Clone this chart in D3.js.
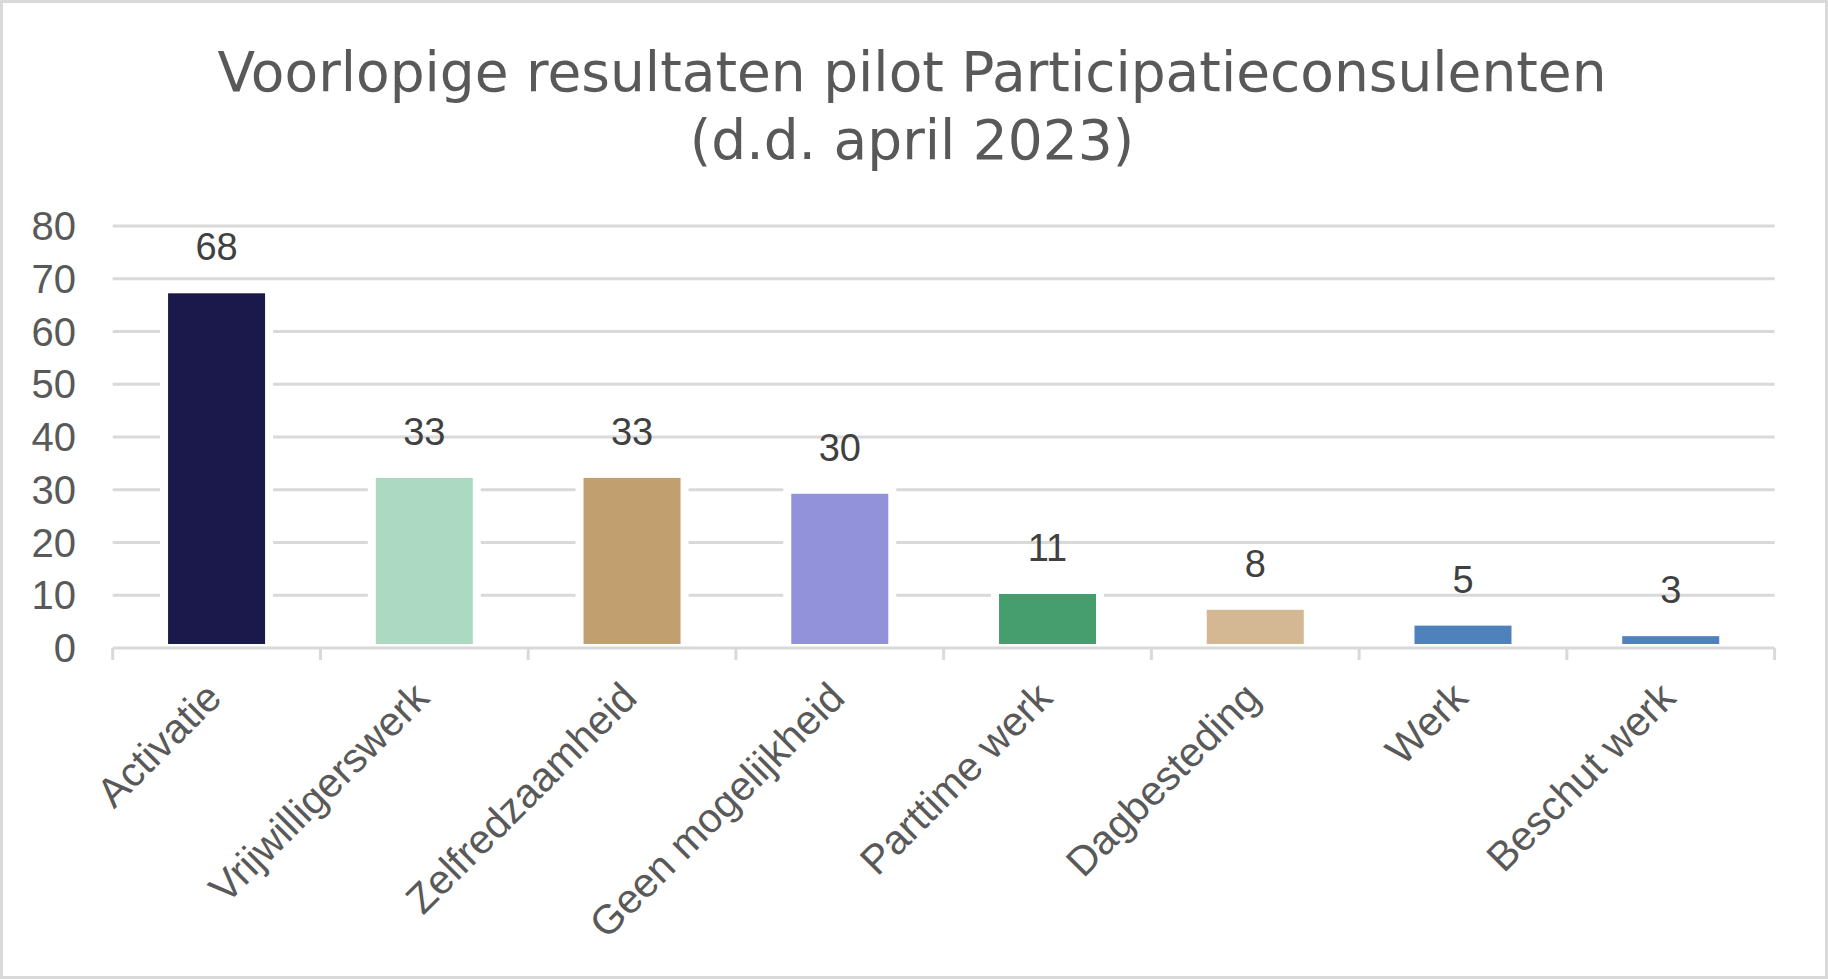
<!DOCTYPE html>
<html>
<head>
<meta charset="utf-8">
<script src="https://cdn.jsdelivr.net/npm/d3@7"></script>
<style>
  body { margin: 0; background: #fff; }
  text { font-family: Arial, "Liberation Sans", sans-serif; }
</style>
</head>
<body>
<div class="canvas"></div>
<script>
// chart data
var categories = ['Activatie', 'Vrijwilligerswerk', 'Zelfredzaamheid', 'Geen mogelijkheid',
                  'Parttime werk', 'Dagbesteding', 'Werk', 'Beschut werk']
var values = [68, 33, 33, 30, 11, 8, 5, 3]
var colors = ['#1b194c', '#acd9c1', '#c29f6f', '#9192da', '#469e6e', '#d4b894', '#4f81bd', '#4f81bd']
var yTicks = [0, 10, 20, 30, 40, 50, 60, 70, 80]
var titleLines = ['Voorlopige resultaten pilot Participatieconsulenten', '(d.d. april 2023)']

var W = 1828, H = 979
var svg = d3.select(".canvas").append("svg").attr("width", W).attr("height", H)

// outer border
svg.append('rect')
    .attr('x', 1.5).attr('y', 1.5)
    .attr('width', W - 3).attr('height', H - 3)
    .attr('fill', 'white')
    .attr('stroke', '#d9d9d9')
    .attr('stroke-width', 3)

// title
svg.selectAll('.title')
    .data(titleLines)
    .enter().append('text')
    .attr('class', 'title')
    .attr('x', 912)
    .attr('y', (d, i) => 91 + i * 68)
    .attr('text-anchor', 'middle')
    .attr('font-size', 55)
    .style('font-family', '"DejaVu Sans", Verdana, sans-serif')
    .attr('fill', '#595959')
    .text(d => d)

var plot = {left: 112.7, right: 1774.6, top: 226, bottom: 648}

var x = d3.scaleBand().domain(categories).range([plot.left, plot.right]).paddingInner(0.533).paddingOuter(0.2665)
var y = d3.scaleLinear().domain([0, 80]).range([plot.bottom, plot.top])

// gridlines
svg.selectAll('.grid')
    .data(yTicks.filter(d => d > 0))
    .enter().append('line')
    .attr('x1', plot.left).attr('x2', plot.right)
    .attr('y1', d => y(d)).attr('y2', d => y(d))
    .attr('stroke', '#d9d9d9')
    .attr('stroke-width', 3)

// y tick labels
svg.selectAll('.ylab')
    .data(yTicks)
    .enter().append('text')
    .attr('x', 76)
    .attr('y', d => y(d))
    .attr('dy', '0.35em')
    .attr('text-anchor', 'end')
    .attr('font-size', 40)
    .attr('fill', '#595959')
    .text(d => d)

// bars, white outline cuts the gridlines
svg.selectAll('.bar')
    .data(values)
    .enter().append('rect')
    .attr('x', (d, i) => x(categories[i]) - 4)
    .attr('width', x.bandwidth() + 8)
    .attr('y', d => y(d))
    .attr('height', d => y(0) - y(d))
    .attr('fill', (d, i) => colors[i])
    .attr('stroke', 'white')
    .attr('stroke-width', 8)

// x axis line + ticks
svg.append('line')
    .attr('x1', plot.left).attr('x2', plot.right)
    .attr('y1', plot.bottom).attr('y2', plot.bottom)
    .attr('stroke', '#d9d9d9')
    .attr('stroke-width', 3)

var step = (plot.right - plot.left) / categories.length
svg.selectAll('.tick')
    .data(d3.range(categories.length + 1))
    .enter().append('line')
    .attr('x1', i => plot.left + i * step).attr('x2', i => plot.left + i * step)
    .attr('y1', plot.bottom).attr('y2', plot.bottom + 12)
    .attr('stroke', '#d9d9d9')
    .attr('stroke-width', 3)

// data labels
svg.selectAll('.dlab')
    .data(values)
    .enter().append('text')
    .attr('x', (d, i) => x(categories[i]) + x.bandwidth() / 2)
    .attr('y', d => y(d) - 29)
    .attr('text-anchor', 'middle')
    .attr('font-size', 38)
    .attr('fill', '#404040')
    .text(d => d)

// category labels, rotated
svg.selectAll('.xlab')
    .data(categories)
    .enter().append('text')
    .attr('transform', d => 'translate(' + (x(d) + x.bandwidth() / 2 + 7) + ',700) rotate(-45)')
    .attr('text-anchor', 'end')
    .attr('font-size', 41)
    .attr('fill', '#595959')
    .text(d => d)
</script>
</body>
</html>
